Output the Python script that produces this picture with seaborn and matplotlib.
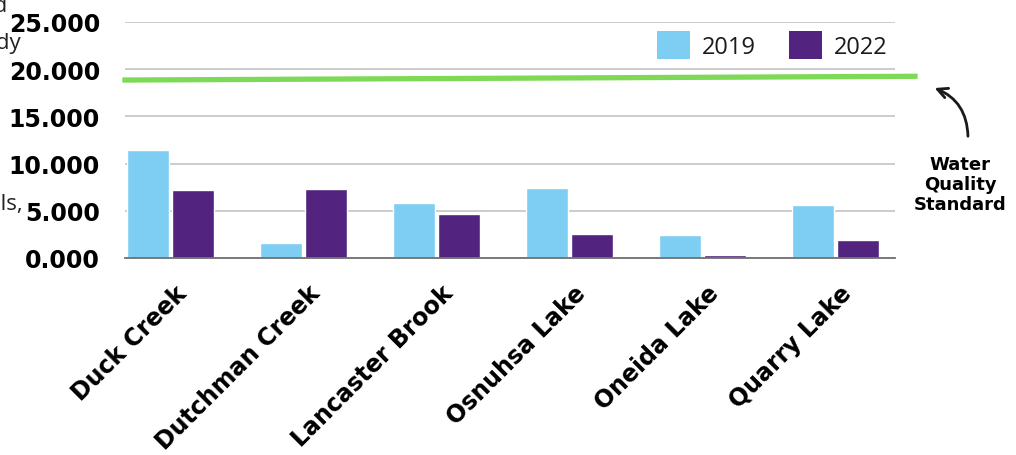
import matplotlib
matplotlib.use("Agg")
import matplotlib.pyplot as plt
import matplotlib.transforms as mtransforms
import seaborn as sns
import pandas as pd
from matplotlib.patches import Patch

# ---- data ----
sites = ["Duck Creek", "Dutchman Creek", "Lancaster Brook", "Osnuhsa Lake", "Oneida Lake", "Quarry Lake"]
values_2019 = [11.45, 1.55, 5.8, 7.45, 2.4, 5.65]
values_2022 = [7.25, 7.35, 4.65, 2.5, 0.35, 1.9]
years = ["2019", "2022"]
standard_x = [-0.36, 5.62]
standard_y = [18.85, 19.25]
yticks = [0, 5, 10, 15, 20, 25]
ytick_labels = ["0.000", "5.000", "10.000", "15.000", "20.000", "25.000"]

c2019 = "#7ecef4"
c2022 = "#52247f"
green = "#7ed957"

df = pd.DataFrame({
    "site": sites * 2,
    "year": [years[0]] * len(sites) + [years[1]] * len(sites),
    "value": values_2019 + values_2022,
})

sns.set_theme(style="white")
plt.rcParams["font.family"] = ["DejaVu Sans"]

W, H = 1016, 456
fig = plt.figure(figsize=(W / 100, H / 100), dpi=100)
ax = fig.add_axes([125 / W, 1 - 259 / H, 770 / W, (259 - 23) / H])

sns.barplot(data=df, x="site", y="value", hue="year", palette=[c2019, c2022],
            width=0.68, gap=0.07, ax=ax, legend=False, saturation=1)

ax.set_xlim(-0.34, 5.45)
ax.set_ylim(0, 25)
ax.set_yticks(yticks)
ax.set_yticklabels(ytick_labels, fontsize=17, fontweight="bold", color="black")
ax.yaxis.grid(True, color="#c8c8c8", lw=1.3)
ax.set_axisbelow(True)
for s in ["top", "right", "left"]:
    ax.spines[s].set_visible(False)
ax.spines["bottom"].set_color("#707070")
ax.spines["bottom"].set_linewidth(1.3)
ax.tick_params(axis="y", length=0, pad=18)
ax.tick_params(axis="x", length=0, pad=0)
ax.set_xlabel("")
ax.set_ylabel("")
ax.set_xticks(range(len(sites)))
ax.set_xticklabels(sites, rotation=45, ha="right", va="center", rotation_mode="anchor",
                   fontsize=17, fontweight="bold", color="black")
offset = mtransforms.ScaledTranslation(13 / 100, -31 / 100, fig.dpi_scale_trans)
for lab in ax.get_xticklabels():
    lab.set_transform(lab.get_transform() + offset)

# water quality standard line
ax.plot(standard_x, standard_y, color=green, lw=3.8, clip_on=False, solid_capstyle="butt")

# legend
handles = [Patch(facecolor=c2019, edgecolor="none"), Patch(facecolor=c2022, edgecolor="none")]
fig.legend(handles, years, loc="center left", bbox_to_anchor=(636 / W, 1 - 46 / H), ncol=2,
           frameon=False, handlelength=1.4, handleheight=1.5,
           handletextpad=0.5, columnspacing=1.4,
           prop={"family": ["Open Sans", "DejaVu Sans"], "size": 17})
for t in fig.legends[0].get_texts():
    t.set_color("#1a1a1a")

# annotation
fig.text(960 / W, 1 - 185 / H, "Water\nQuality\nStandard", ha="center", va="center",
         fontsize=13, fontweight="bold", color="black", linespacing=1.15)
ax.annotate("", xy=(932 / W, 1 - 88 / H), xytext=(968 / W, 1 - 140 / H),
            xycoords="figure fraction", textcoords="figure fraction",
            arrowprops=dict(arrowstyle="->", color="#1a1a1a", lw=2,
                            connectionstyle="arc3,rad=0.35", mutation_scale=18))

# clipped axis title fragments at left edge
for txt, xr, yc in [("Measured", 8, 6), ("Study", 21, 43), ("Levels,", 24, 205)]:
    fig.text(xr / W, 1 - yc / H, txt, ha="right", va="center", fontsize=16,
             color="#222222", family=["Open Sans", "DejaVu Sans"])

fig.savefig("out.png", dpi=100)
